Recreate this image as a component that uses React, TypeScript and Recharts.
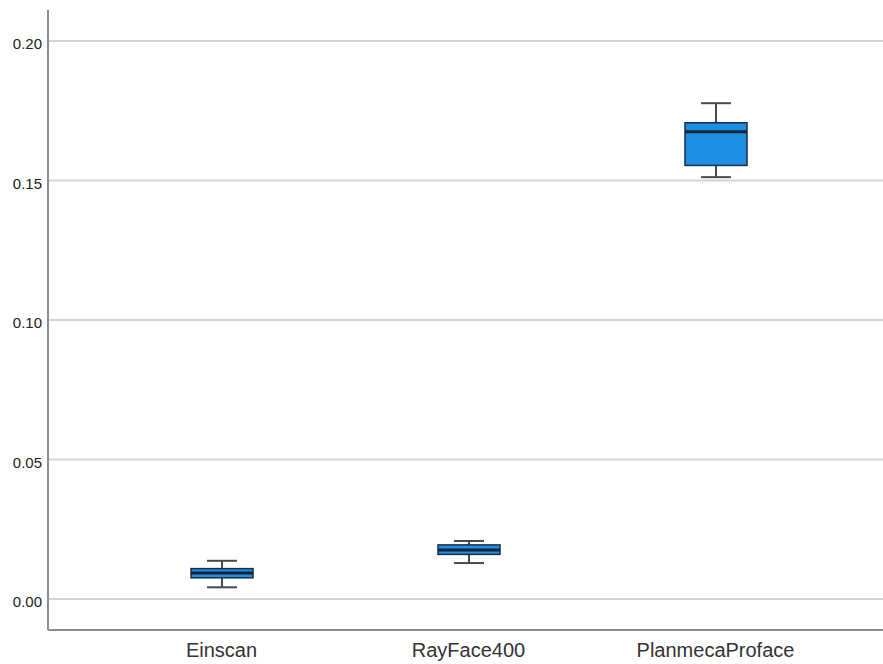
import { ComposedChart, Bar, XAxis, YAxis, ReferenceLine } from 'recharts'

// box plot statistics per scanner
const categories = ['Einscan', 'RayFace400', 'PlanmecaProface']
const whiskerLow = [0.0042, 0.0129, 0.1512]
const q1 = [0.0076, 0.0160, 0.1554]
const median = [0.0093, 0.0176, 0.1675]
const q3 = [0.0109, 0.0194, 0.1707]
const whiskerHigh = [0.0137, 0.0208, 0.1777]
const yTicks = [0, 0.05, 0.1, 0.15, 0.2]

const data = categories.map((name, i) => ({
  name,
  low: whiskerLow[i],
  q1: q1[i],
  median: median[i],
  q3: q3[i],
  high: whiskerHigh[i],
  base: q1[i],
  box: q3[i] - q1[i],
}))

const FONT = 'Arial, "Liberation Sans", sans-serif'
const AXIS = '#8c8c8c'

// draws the box, median and whiskers from the stacked bar's geometry
function BoxShape(props: any) {
  const { x, y, width, height, payload } = props
  const ppu = height / (payload.q3 - payload.q1)
  const cx = x + width / 2
  const top = y
  const bottom = y + height
  const yMed = y + (payload.q3 - payload.median) * ppu
  const yHigh = y - (payload.high - payload.q3) * ppu
  const yLow = bottom + (payload.q1 - payload.low) * ppu
  const cap = 15
  return (
    <g>
      <line x1={cx} x2={cx} y1={yHigh} y2={top} stroke="#4a4a4a" strokeWidth={2} />
      <line x1={cx} x2={cx} y1={bottom} y2={yLow} stroke="#4a4a4a" strokeWidth={2} />
      <line x1={cx - cap} x2={cx + cap} y1={yHigh} y2={yHigh} stroke="#4a4a4a" strokeWidth={2} />
      <line x1={cx - cap} x2={cx + cap} y1={yLow} y2={yLow} stroke="#4a4a4a" strokeWidth={2} />
      <rect x={x} y={top} width={width} height={height} fill="#1f8fe3" stroke="#1b2d48" strokeWidth={1.5} />
      <line x1={x} x2={x + width} y1={yMed} y2={yMed} stroke="#14233a" strokeWidth={3} />
    </g>
  )
}

export default function App() {
  return (
    <div style={{ position: 'absolute', left: 0, top: 0, background: '#fff' }}>
      <ComposedChart width={883} height={664} data={data} margin={{ top: 10, right: 0, bottom: 0, left: 0 }}>
        <XAxis
          dataKey="name"
          height={34}
          padding={{ left: 50, right: 44 }}
          axisLine={{ stroke: AXIS, strokeWidth: 2 }}
          tickLine={false}
          tickSize={6}
          tickMargin={7}
          tick={{ fill: '#333', fontSize: 20, fontFamily: FONT }}
        />
        <YAxis
          width={48}
          type="number"
          domain={[-0.0111, 0.2111]}
          ticks={yTicks}
          allowDataOverflow
          tickFormatter={(v: number) => v.toFixed(2)}
          axisLine={{ stroke: AXIS, strokeWidth: 2 }}
          tickLine={false}
          tickSize={4}
          tickMargin={2}
          tick={{ fill: '#222', fontSize: 15, fontFamily: FONT, dy: 3 }}
        />
        {yTicks.map(t => (
          <ReferenceLine key={t} y={t} stroke="#d3d3d3" strokeWidth={2} />
        ))}
        <Bar dataKey="base" stackId="b" fill="transparent" barSize={62} isAnimationActive={false} />
        <Bar dataKey="box" stackId="b" barSize={62} shape={BoxShape} isAnimationActive={false} />
      </ComposedChart>
    </div>
  )
}
